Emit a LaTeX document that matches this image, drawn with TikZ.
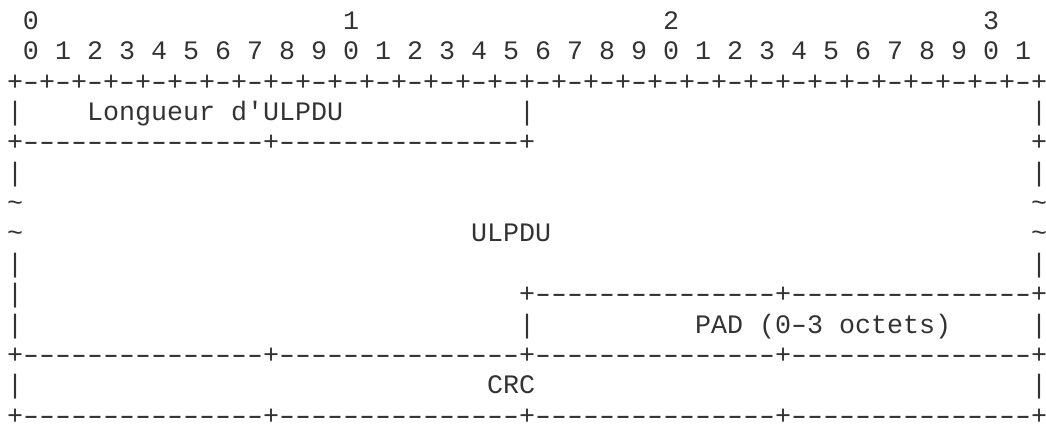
\documentclass[tikz,border=0pt]{standalone}
\usepackage{fontspec}
\setmonofont{Liberation Mono}
\tikzset{asc/.style={anchor=base west, inner sep=0pt, outer sep=0pt,
  font=\fontsize{26.67}{30}\selectfont\ttfamily, text=black!80}}
\newcommand\seg[4]{\node[asc] (#1) at ({(7+16*#2)*1pt},{-(29.5+30.35*#3)*1pt}) {#4};}
% a wide hyphen, as in Courier New
\newcommand\hd{\makebox[16pt]{\scalebox{1.5}[1]{-}}}
\newcommand\fivehd{\hd\hd\hd\hd\hd}
\newcommand\fifteen{\fivehd\fivehd\fivehd}
\newcommand\pairs{+\hd+\hd+\hd+\hd}
\newcommand\rulerline{\pairs\pairs\pairs\pairs\pairs\pairs\pairs\pairs+}
\newcommand\halfline{+\fifteen+\fifteen+}
\newcommand\fullline{+\fifteen+\fifteen+\fifteen+\fifteen+}
\begin{document}
\begin{tikzpicture}
\useasboundingbox (0,0) rectangle (1046pt,-423pt);
% row 0
\seg{hA}{1}{0}{0}
\seg{hB}{21}{0}{1}
\seg{hC}{41}{0}{2}
\seg{hD}{61}{0}{3}
% row 1
\seg{bits}{1}{1}{0 1 2 3 4 5 6 7 8 9 0 1 2 3 4 5 6 7 8 9 0 1 2 3 4 5 6 7 8 9 0 1}
% row 2
\seg{top}{0}{2}{\rulerline}
% row 3
\seg{lenL}{0}{3}{|}
\seg{lenT}{5}{3}{Longueur d'ULPDU}
\seg{lenM}{32}{3}{|}
\seg{lenR}{64}{3}{|}
% row 4
\seg{lenB}{0}{4}{\halfline}
\seg{lenBR}{64}{4}{+}
% row 5
\seg{uA}{0}{5}{|}
\seg{uAR}{64}{5}{|}
% row 6
\seg{uB}{0}{6}{\textasciitilde}
\seg{uBR}{64}{6}{\textasciitilde}
% row 7
\seg{uC}{0}{7}{\textasciitilde}
\seg{ulpdu}{29}{7}{ULPDU}
\seg{uCR}{64}{7}{\textasciitilde}
% row 8
\seg{uD}{0}{8}{|}
\seg{uDR}{64}{8}{|}
% row 9
\seg{uE}{0}{9}{|}
\seg{padT}{32}{9}{\halfline}
% row 10
\seg{uF}{0}{10}{|}
\seg{padL}{32}{10}{|}
\seg{pad}{43}{10}{PAD (0\hd3 octets)}
\seg{padR}{64}{10}{|}
% row 11
\seg{mid}{0}{11}{\fullline}
% row 12
\seg{crcL}{0}{12}{|}
\seg{crc}{30}{12}{CRC}
\seg{crcR}{64}{12}{|}
% row 13
\seg{bot}{0}{13}{\fullline}
\end{tikzpicture}
\end{document}
